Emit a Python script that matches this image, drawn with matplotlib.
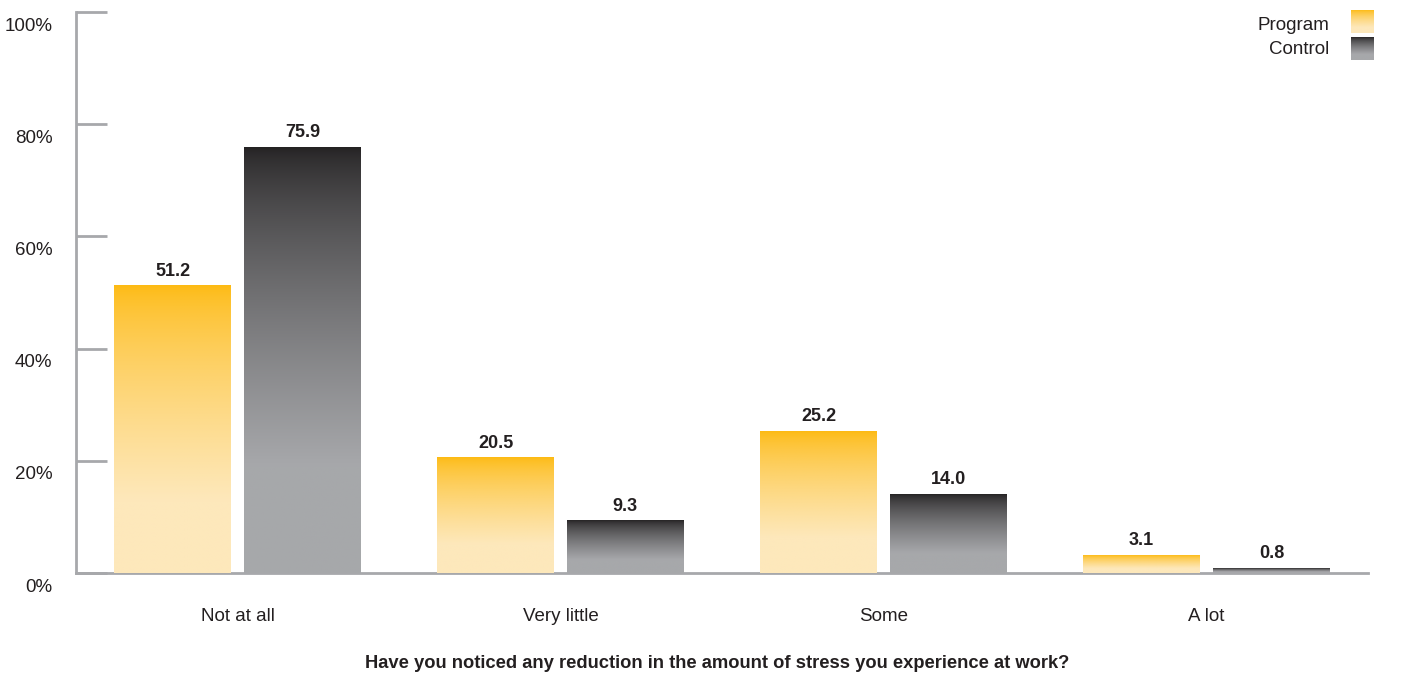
import numpy as np
import matplotlib
matplotlib.use('Agg')
import matplotlib.pyplot as plt
import matplotlib.transforms as mtransforms
from matplotlib.colors import to_rgb

plt.rcParams['font.family'] = ['Liberation Sans', 'DejaVu Sans']

categories = ['Not at all', 'Very little', 'Some', 'A lot']
program = [51.2, 20.5, 25.2, 3.1]
control = [75.9, 9.3, 14.0, 0.8]
series_names = ['Program', 'Control']
yticks = [0, 20, 40, 60, 80, 100]
question = 'Have you noticed any reduction in the amount of stress you experience at work?'

# top/bottom colours of each bar gradient
prog_top, prog_bot = to_rgb('#fdba12'), to_rgb('#fde8bb')
ctrl_top, ctrl_bot = to_rgb('#242223'), to_rgb('#a7a8ab')
axis_grey = '#a7a8ab'
text_col = '#231f20'


def gradient(top, bot, n=256):
    t = np.linspace(0, 1, n)
    f = np.clip(t / 0.75, 0, 1) ** 0.7
    top, bot = np.array(top), np.array(bot)
    col = top[None, :] + (bot - top)[None, :] * f[:, None]
    return col[:, None, :]


fig = plt.figure(figsize=(14.09, 6.75), dpi=100)
ax = fig.add_axes([76 / 1409, 102 / 675, (1368 - 76) / 1409, (573 - 12) / 675])

width = 0.362
offset = 0.201
x = np.arange(len(categories))
for xi, p, c in zip(x, program, control):
    for val, dx, top, bot in [(p, -offset, prog_top, prog_bot), (c, offset, ctrl_top, ctrl_bot)]:
        ax.imshow(gradient(top, bot), extent=[xi + dx - width / 2, xi + dx + width / 2, 0, val],
                  aspect='auto', origin='upper', interpolation='bilinear', zorder=2)
        ax.annotate(f'{val:.1f}', (xi + dx, val), xytext=(0, 4.5), textcoords='offset points',
                    ha='center', va='bottom', fontsize=13, fontweight='bold', color=text_col)

ax.set_xlim(-0.5, 3.5)
ax.set_ylim(0, 100)

for s in ['top', 'right']:
    ax.spines[s].set_visible(False)
for s in ['left', 'bottom']:
    ax.spines[s].set_color(axis_grey)
    ax.spines[s].set_linewidth(2)
ax.spines['bottom'].set_zorder(1)

ax.set_yticks(yticks)
ax.yaxis.set_tick_params(direction='in', length=22, width=2, color=axis_grey)
ax.set_yticklabels([])
ax.set_xticks([])

# y labels sit just under their tick lines
lbl_trans = ax.get_yaxis_transform() + mtransforms.ScaledTranslation(-17 / 72, -4 / 72, fig.dpi_scale_trans)
for yv in yticks:
    ax.text(0, yv, f'{yv}%', transform=lbl_trans, ha='right', va='top', fontsize=13.5, color=text_col)

cat_trans = ax.get_xaxis_transform() + mtransforms.ScaledTranslation(0, -31.5 / 72, fig.dpi_scale_trans)
for xi, cat in zip(x, categories):
    ax.text(xi, 0, cat, transform=cat_trans, ha='center', va='center', fontsize=13.5, color=text_col)

fig.text(717 / 1409, 1 - 664 / 675, question, ha='center', va='center',
         fontsize=13.2, fontweight='bold', color=text_col)

# legend: label text plus a small gradient swatch
swatch_top = [10, 37]
label_y = [25, 49]
for name, top, bot, y0, ly in zip(series_names, [prog_top, ctrl_top], [prog_bot, ctrl_bot], swatch_top, label_y):
    sw = fig.add_axes([1351 / 1409, 1 - (y0 + 23) / 675, 23 / 1409, 23 / 675])
    sw.imshow(gradient(top, bot), aspect='auto', interpolation='bilinear')
    sw.axis('off')
    fig.text(1329 / 1409, 1 - ly / 675, name, ha='right', va='center',
             fontsize=13.5, color=text_col)

plt.savefig('out.png', dpi=100)
